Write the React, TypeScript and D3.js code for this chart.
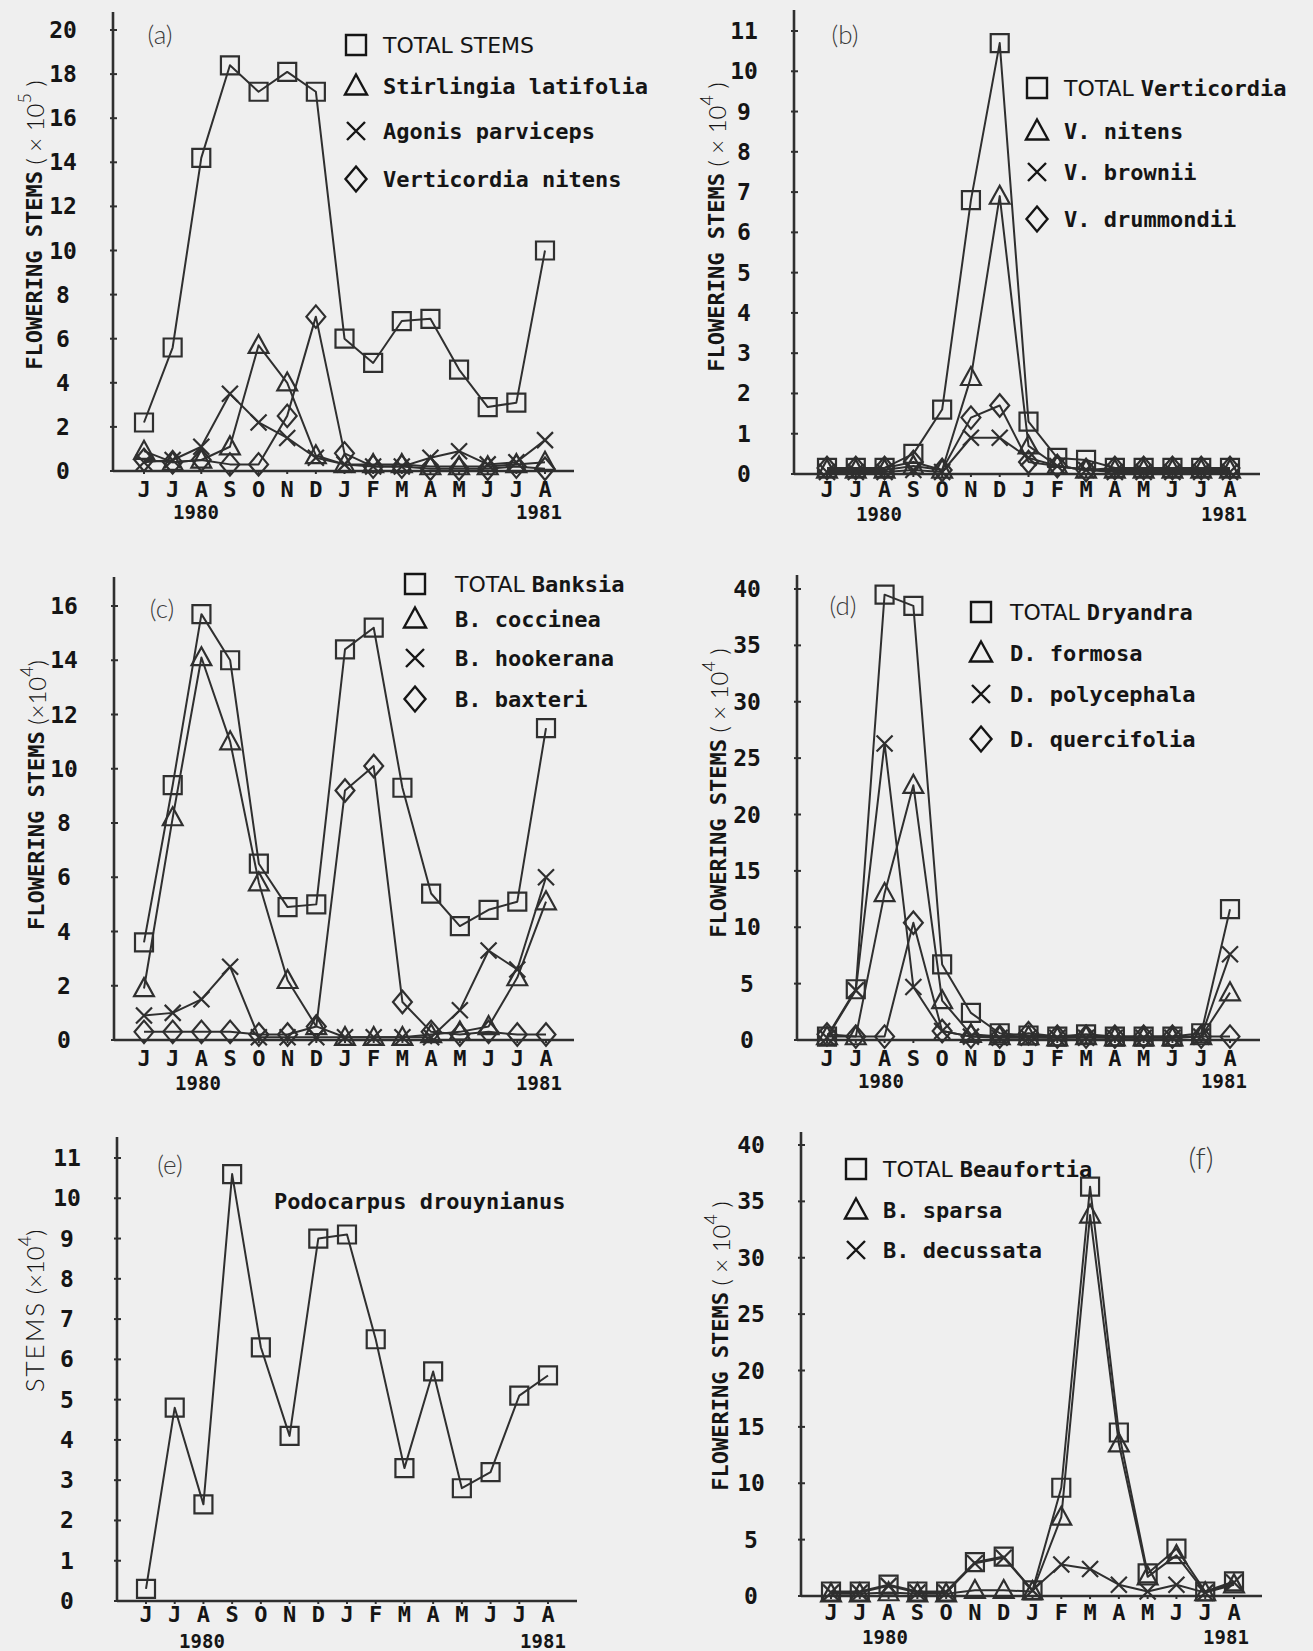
import * as d3 from 'd3';

// ---------------------------------------------------------------------------
// Data
// ---------------------------------------------------------------------------
const MONTHS = ['J', 'J', 'A', 'S', 'O', 'N', 'D', 'J', 'F', 'M', 'A', 'M', 'J', 'J', 'A'];
const YEARS = ['1980', '1981'];

// (a) x 10^5
const A_TOTAL = [2.2, 5.6, 14.2, 18.4, 17.2, 18.1, 17.2, 6.0, 4.9, 6.8, 6.9, 4.6, 2.9, 3.1, 10.0];
const A_STIRLINGIA = [0.9, 0.4, 0.5, 1.1, 5.7, 4.0, 0.7, 0.3, 0.3, 0.3, 0.2, 0.2, 0.2, 0.3, 0.4];
const A_AGONIS = [0.4, 0.5, 1.1, 3.5, 2.2, 1.5, 0.6, 0.3, 0.2, 0.2, 0.6, 0.9, 0.3, 0.4, 1.4];
const A_VERTICORDIA = [0.5, 0.4, 0.5, 0.3, 0.3, 2.5, 7.0, 0.8, 0.2, 0.2, 0.1, 0.1, 0.1, 0.2, 0.1];

// (b) x 10^4
const B_TOTAL = [0.15, 0.15, 0.15, 0.5, 1.6, 6.8, 10.7, 1.3, 0.4, 0.35, 0.15, 0.15, 0.15, 0.15, 0.15];
const B_NITENS = [0.1, 0.1, 0.1, 0.2, 0.1, 2.4, 6.9, 0.7, 0.2, 0.1, 0.1, 0.1, 0.1, 0.1, 0.1];
const B_BROWNII = [0.05, 0.05, 0.05, 0.1, 0.05, 0.9, 0.9, 0.4, 0.2, 0.1, 0.05, 0.05, 0.05, 0.05, 0.05];
const B_DRUMMONDII = [0.15, 0.15, 0.15, 0.3, 0.1, 1.4, 1.7, 0.3, 0.2, 0.1, 0.15, 0.15, 0.15, 0.15, 0.15];

// (c) x 10^4
const C_TOTAL = [3.6, 9.4, 15.7, 14.0, 6.5, 4.9, 5.0, 14.4, 15.2, 9.3, 5.4, 4.2, 4.8, 5.1, 11.5];
const C_COCCINEA = [1.9, 8.2, 14.1, 11.0, 5.8, 2.2, 0.5, 0.1, 0.1, 0.1, 0.2, 0.3, 0.5, 2.3, 5.1];
const C_HOOKERANA = [0.9, 1.0, 1.5, 2.7, 0.1, 0.1, 0.1, 0.1, 0.1, 0.1, 0.1, 1.1, 3.3, 2.6, 6.0];
const C_BAXTERI = [0.3, 0.3, 0.3, 0.3, 0.2, 0.2, 0.5, 9.2, 10.1, 1.4, 0.3, 0.2, 0.3, 0.2, 0.2];

// (d) x 10^4
const D_TOTAL = [0.3, 4.5, 39.5, 38.5, 6.7, 2.4, 0.6, 0.4, 0.3, 0.5, 0.3, 0.3, 0.3, 0.6, 11.6];
const D_FORMOSA = [0.3, 0.3, 13.0, 22.6, 3.5, 0.5, 0.3, 0.3, 0.2, 0.3, 0.2, 0.2, 0.2, 0.3, 4.2];
const D_POLYCEPHALA = [0.2, 4.4, 26.3, 4.7, 0.8, 0.3, 0.2, 0.2, 0.2, 0.2, 0.2, 0.2, 0.2, 0.3, 7.6];
const D_QUERCIFOLIA = [0.5, 0.3, 0.3, 10.4, 0.8, 0.3, 0.3, 0.6, 0.3, 0.3, 0.3, 0.3, 0.3, 0.3, 0.3];

// (e) x 10^4
const E_PODOCARPUS = [0.3, 4.8, 2.4, 10.6, 6.3, 4.1, 9.0, 9.1, 6.5, 3.3, 5.7, 2.8, 3.2, 5.1, 5.6];

// (f) x 10^4
const F_TOTAL = [0.4, 0.4, 1.0, 0.4, 0.4, 3.0, 3.5, 0.5, 9.6, 36.3, 14.5, 2.0, 4.2, 0.4, 1.3];
const F_SPARSA = [0.2, 0.2, 0.3, 0.2, 0.2, 0.5, 0.5, 0.4, 7.0, 33.8, 13.5, 1.7, 3.6, 0.3, 1.0];
const F_DECUSSATA = [0.3, 0.3, 0.9, 0.3, 0.3, 2.9, 3.4, 0.5, 2.8, 2.4, 1.0, 0.4, 1.0, 0.3, 1.2];

// ---------------------------------------------------------------------------
// Styles
// ---------------------------------------------------------------------------
const BG = '#efefef';
const INK = '#2f2f2f';
const TEXT = '#151515';
const MONO = "'DejaVu Sans Mono', monospace";
const SANS = "'DejaVu Sans', sans-serif";
const THIN = "Lato, 'Open Sans', sans-serif";

type Shape = 'square' | 'triangle' | 'cross' | 'diamond';
type Series = { name: string; shape: Shape; values: number[] };

function markerPath(shape: Shape, s: number): string {
  switch (shape) {
    case 'square':
      return `M${-s},${-s}H${s}V${s}H${-s}Z`;
    case 'triangle':
      return `M0,${-s * 1.15}L${s * 1.1},${s * 0.85}L${-s * 1.1},${s * 0.85}Z`;
    case 'cross':
      return `M${-s},${-s}L${s},${s}M${s},${-s}L${-s},${s}`;
    case 'diamond':
      return `M0,${-s * 1.25}L${s * 1.05},0L0,${s * 1.25}L${-s * 1.05},0Z`;
  }
}

const PANELS = [
  {
    tag: '(a)', tagX: 160, tagY: 34, tagSize: 26,
    axisX: 113, axisTop: 12, baseY: 471, topY: 30, yMax: 20, yStep: 2,
    x0: 144, x1: 545, xEnd: 574, monthY: 489, yearY: 512, y1980X: 196, y1981X: 539,
    titleX: 34, titleY: 225, title: 'FLOWERING STEMS', unit: ' ( × 10', sup: '5', unitEnd: ' )',
    legendX: 356, legendTextX: 383, legendY: [45, 86, 131, 179],
    series: [
      { name: 'TOTAL STEMS', shape: 'square', values: A_TOTAL },
      { name: 'Stirlingia latifolia', shape: 'triangle', values: A_STIRLINGIA },
      { name: 'Agonis parviceps', shape: 'cross', values: A_AGONIS },
      { name: 'Verticordia nitens', shape: 'diamond', values: A_VERTICORDIA },
    ] as Series[],
  },
  {
    tag: '(b)', tagX: 845, tagY: 34, tagSize: 26,
    axisX: 794, axisTop: 10, baseY: 474, topY: 31, yMax: 11, yStep: 1,
    x0: 827, x1: 1230, xEnd: 1260, monthY: 489, yearY: 514, y1980X: 879, y1981X: 1224,
    titleX: 716, titleY: 227, title: 'FLOWERING STEMS', unit: ' ( × 10', sup: '4', unitEnd: ' )',
    legendX: 1037, legendTextX: 1064, legendY: [88, 131, 172, 219],
    series: [
      { name: 'TOTAL Verticordia', shape: 'square', values: B_TOTAL },
      { name: 'V. nitens', shape: 'triangle', values: B_NITENS },
      { name: 'V. brownii', shape: 'cross', values: B_BROWNII },
      { name: 'V. drummondii', shape: 'diamond', values: B_DRUMMONDII },
    ] as Series[],
  },
  {
    tag: '(c)', tagX: 162, tagY: 608, tagSize: 26,
    axisX: 114, axisTop: 577, baseY: 1040, topY: 606, yMax: 16, yStep: 2,
    x0: 144, x1: 546, xEnd: 574, monthY: 1058, yearY: 1083, y1980X: 198, y1981X: 539,
    titleX: 36, titleY: 795, title: 'FLOWERING STEMS', unit: '  (×10', sup: '4', unitEnd: ')',
    legendX: 415, legendTextX: 455, legendY: [584, 619, 658, 699],
    series: [
      { name: 'TOTAL Banksia', shape: 'square', values: C_TOTAL },
      { name: 'B. coccinea', shape: 'triangle', values: C_COCCINEA },
      { name: 'B. hookerana', shape: 'cross', values: C_HOOKERANA },
      { name: 'B. baxteri', shape: 'diamond', values: C_BAXTERI },
    ] as Series[],
  },
  {
    tag: '(d)', tagX: 843, tagY: 605, tagSize: 26,
    axisX: 797, axisTop: 575, baseY: 1040, topY: 589, yMax: 40, yStep: 5,
    x0: 827, x1: 1230, xEnd: 1260, monthY: 1058, yearY: 1081, y1980X: 881, y1981X: 1224,
    titleX: 718, titleY: 793, title: 'FLOWERING STEMS', unit: '  ( × 10', sup: '4', unitEnd: ' )',
    legendX: 981, legendTextX: 1010, legendY: [612, 653, 694, 739],
    series: [
      { name: 'TOTAL Dryandra', shape: 'square', values: D_TOTAL },
      { name: 'D. formosa', shape: 'triangle', values: D_FORMOSA },
      { name: 'D. polycephala', shape: 'cross', values: D_POLYCEPHALA },
      { name: 'D. quercifolia', shape: 'diamond', values: D_QUERCIFOLIA },
    ] as Series[],
  },
  {
    tag: '(e)', tagX: 170, tagY: 1164, tagSize: 26,
    axisX: 117, axisTop: 1137, baseY: 1601, topY: 1158, yMax: 11, yStep: 1,
    x0: 146, x1: 548, xEnd: 577, monthY: 1614, yearY: 1641, y1980X: 202, y1981X: 543,
    titleX: 34, titleY: 1311, title: '', thinTitle: 'STEMS', unit: ' (×10', sup: '4', unitEnd: ')',
    legendX: 0, legendTextX: 0, legendY: [] as number[],
    note: 'Podocarpus drouynianus', noteX: 274, noteY: 1201,
    series: [
      { name: 'Podocarpus drouynianus', shape: 'square', values: E_PODOCARPUS },
    ] as Series[],
  },
  {
    tag: '(f)', tagX: 1201, tagY: 1157, tagSize: 30,
    axisX: 801, axisTop: 1132, baseY: 1596, topY: 1145, yMax: 40, yStep: 5,
    x0: 831, x1: 1234, xEnd: 1262, monthY: 1612, yearY: 1637, y1980X: 885, y1981X: 1226,
    titleX: 720, titleY: 1346, title: 'FLOWERING STEMS', unit: '  ( × 10', sup: '4', unitEnd: ' )',
    legendX: 856, legendTextX: 883, legendY: [1169, 1210, 1250],
    series: [
      { name: 'TOTAL Beaufortia', shape: 'square', values: F_TOTAL },
      { name: 'B. sparsa', shape: 'triangle', values: F_SPARSA },
      { name: 'B. decussata', shape: 'cross', values: F_DECUSSATA },
    ] as Series[],
  },
];

type PanelCfg = (typeof PANELS)[number] & { thinTitle?: string; note?: string; noteX?: number; noteY?: number };

function LegendLabel({ name, x, y }: { name: string; x: number; y: number }) {
  const [head, ...tail] = name.split(' ');
  const rest = tail.join(' ');
  if (head === 'TOTAL') {
    const restSans = rest === rest.toUpperCase();
    return (
      <text x={x} y={y} dominantBaseline="central" fill={TEXT} fontSize={22}>
        <tspan fontFamily={SANS}>TOTAL </tspan>
        <tspan fontFamily={restSans ? SANS : MONO} fontWeight={restSans ? 'normal' : 'bold'}>{rest}</tspan>
      </text>
    );
  }
  return (
    <text x={x} y={y} dominantBaseline="central" fill={TEXT} fontSize={22} fontFamily={MONO} fontWeight="bold">
      {name}
    </text>
  );
}

function Panel({ p }: { p: PanelCfg }) {
  const x = d3.scaleLinear().domain([0, MONTHS.length - 1]).range([p.x0, p.x1]);
  const y = d3.scaleLinear().domain([0, p.yMax]).range([p.baseY, p.topY]);
  const ticks = d3.range(0, p.yMax + 0.001, p.yStep);
  const line = d3
    .line<number>()
    .x((_, i) => x(i))
    .y((d) => y(d));

  return (
    <g>
      {/* Axes */}
      <line x1={p.axisX} x2={p.axisX} y1={p.axisTop} y2={p.baseY + 1} stroke={INK} strokeWidth={2.6} />
      <line x1={p.axisX} x2={p.xEnd} y1={p.baseY} y2={p.baseY} stroke={INK} strokeWidth={2.6} />

      {/* Y ticks */}
      {ticks.map((t) => (
        <g key={t}>
          <line x1={p.axisX - 3} x2={p.axisX + 4} y1={y(t)} y2={y(t)} stroke={INK} strokeWidth={2} />
          <text
            x={p.axisX - 50}
            y={y(t)}
            textAnchor="middle"
            dominantBaseline="central"
            fontFamily={MONO}
            fontWeight="bold"
            fontSize={23}
            fill={TEXT}
          >
            {t}
          </text>
        </g>
      ))}

      {/* X ticks + month labels */}
      {MONTHS.map((m, i) => (
        <g key={i}>
          <line x1={x(i)} x2={x(i)} y1={p.baseY} y2={p.baseY + 3} stroke={INK} strokeWidth={2} />
          <text
            x={x(i)}
            y={p.monthY}
            textAnchor="middle"
            dominantBaseline="central"
            fontFamily={MONO}
            fontWeight="bold"
            fontSize={22}
            fill={TEXT}
          >
            {m}
          </text>
        </g>
      ))}
      <text x={p.y1980X} y={p.yearY} textAnchor="middle" dominantBaseline="central" fontFamily={MONO} fontWeight="bold" fontSize={19} fill={TEXT}>
        {YEARS[0]}
      </text>
      <text x={p.y1981X} y={p.yearY} textAnchor="middle" dominantBaseline="central" fontFamily={MONO} fontWeight="bold" fontSize={19} fill={TEXT}>
        {YEARS[1]}
      </text>

      {/* Y title */}
      <text
        transform={`translate(${p.titleX},${p.titleY}) rotate(-90)`}
        textAnchor="middle"
        dominantBaseline="central"
        fill={TEXT}
        fontSize={22}
      >
        {p.title && (
          <tspan fontFamily={MONO} fontWeight="bold">
            {p.title}
          </tspan>
        )}
        {p.thinTitle && (
          <tspan fontFamily={THIN} fontWeight={300} fontSize={26} letterSpacing={2}>
            {p.thinTitle}
          </tspan>
        )}
        <tspan fontFamily={THIN} fontWeight={300} fontSize={24}>
          {p.unit}
        </tspan>
        <tspan fontFamily={THIN} fontWeight={300} fontSize={18} dy={-10}>
          {p.sup}
        </tspan>
        <tspan fontFamily={THIN} fontWeight={300} fontSize={24} dy={10}>
          {p.unitEnd}
        </tspan>
      </text>

      {/* Panel tag */}
      <text x={p.tagX} y={p.tagY} textAnchor="middle" dominantBaseline="central" fontFamily={THIN} fontWeight={300} fontSize={p.tagSize} fill="#3a3a3a">
        {p.tag}
      </text>

      {/* Series */}
      {p.series.map((s) => (
        <g key={s.name}>
          <path d={line(s.values) ?? ''} fill="none" stroke={INK} strokeWidth={2} strokeLinejoin="round" />
          {s.values.map((v, i) => (
            <path
              key={i}
              transform={`translate(${x(i)},${y(v)})`}
              d={markerPath(s.shape, s.shape === 'cross' ? 8 : 9)}
              fill="none"
              stroke={INK}
              strokeWidth={2.2}
            />
          ))}
        </g>
      ))}

      {/* Legend */}
      {p.legendY.map((ly, i) => {
        const s = p.series[i];
        return (
          <g key={s.name}>
            <path
              transform={`translate(${p.legendX},${ly})`}
              d={markerPath(s.shape, s.shape === 'cross' ? 9 : 10)}
              fill="none"
              stroke={TEXT}
              strokeWidth={2.4}
            />
            <LegendLabel name={s.name} x={p.legendTextX} y={ly} />
          </g>
        );
      })}

      {p.note && (
        <text x={p.noteX} y={p.noteY} dominantBaseline="central" fontFamily={MONO} fontWeight="bold" fontSize={22} fill={TEXT}>
          {p.note}
        </text>
      )}
    </g>
  );
}

export default function App() {
  return (
    <svg
      width={1313}
      height={1651}
      style={{ position: 'absolute', left: 0, top: 0, display: 'block' }}
    >
      <rect x={0} y={0} width={1313} height={1651} fill={BG} />
      {PANELS.map((p) => (
        <Panel key={p.tag} p={p as PanelCfg} />
      ))}
    </svg>
  );
}
